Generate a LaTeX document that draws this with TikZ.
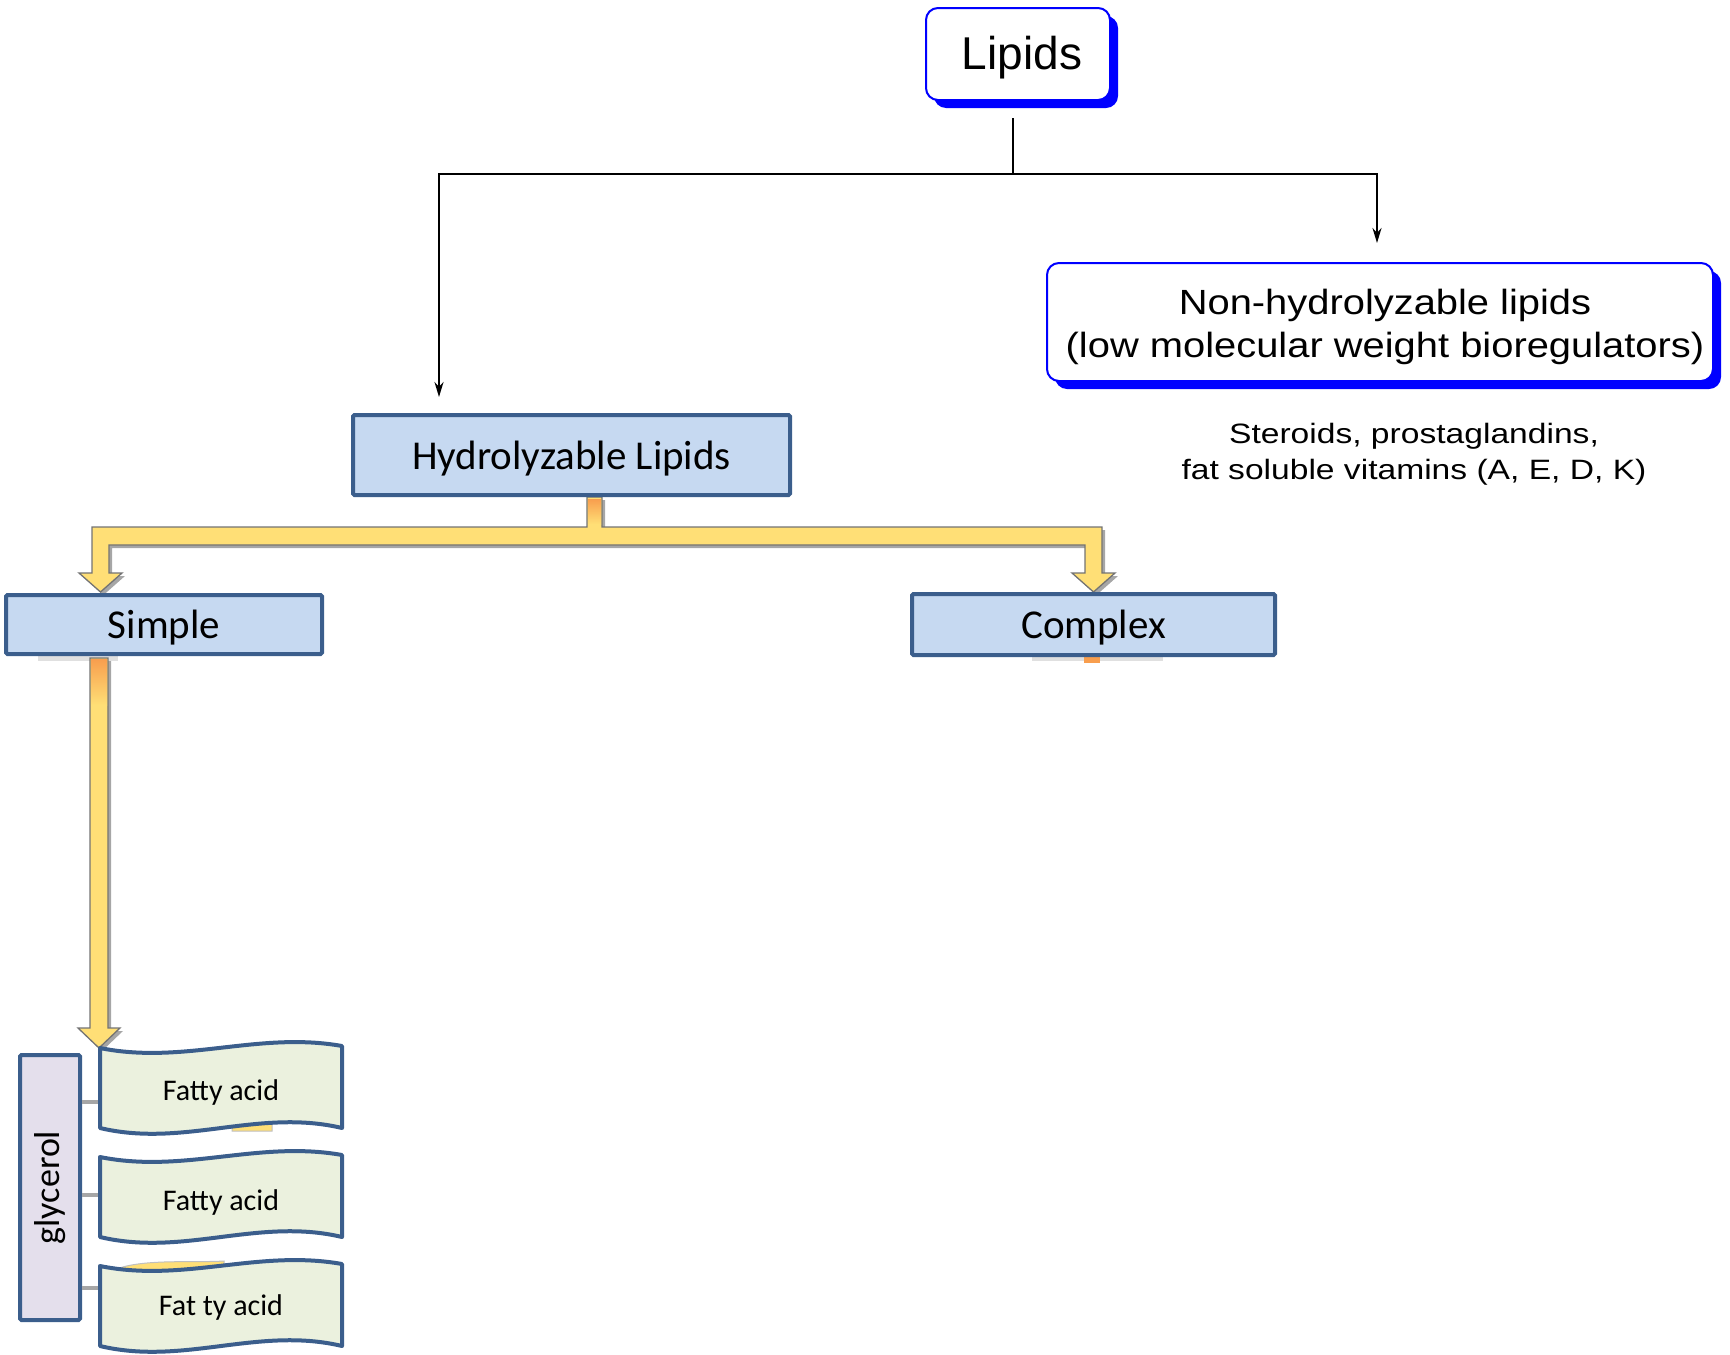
\documentclass[tikz,border=0pt]{standalone}
\usepackage{fontspec}
\setmainfont{Liberation Sans}
\newfontfamily\calfont{Carlito}
\usetikzlibrary{arrows.meta,shadows}
\definecolor{bxborder}{RGB}{59,94,140}
\definecolor{bxfill}{RGB}{198,217,241}
\definecolor{arryel}{RGB}{255,223,118}
\definecolor{arrorg}{RGB}{248,158,78}
\definecolor{fafill}{RGB}{235,241,222}
\definecolor{glyfill}{RGB}{228,223,236}
\definecolor{pblue}{RGB}{0,0,255}
\begin{document}
\begin{tikzpicture}[x=1pt,y=-1pt,
  hbox/.style={draw=bxborder, fill=bxfill, line width=4pt, inner sep=0pt,
    rounded corners=1.5pt, text height=39pt, text depth=11pt,
    font=\calfont\fontsize{41}{49}\selectfont},
  bluebox/.style={draw=pblue, fill=white, line width=2pt, inner sep=0pt,
    rounded corners=12pt, align=center,
    drop shadow={shadow xshift=8pt, shadow yshift=-8pt, fill=pblue, opacity=1}},
  conn/.style={draw=black, line width=2.2pt},
  tip/.style={-{Stealth[length=15pt,width=9pt]}},
  yarrow/.style={fill=arryel, draw=black!55, line width=1.3pt, line join=miter,
    drop shadow={shadow xshift=3pt, shadow yshift=-3pt, opacity=0.35, fill=black}},
  wave/.style={draw=bxborder, fill=fafill, line width=4pt, line join=round},
  fatext/.style={font=\calfont\fontsize{30}{36}\selectfont, inner sep=0pt},
  glink/.style={draw=black!35, line width=3.5pt},
  side/.style={font=\fontsize{28}{36.5}\selectfont, align=center, inner sep=0pt}
]
\useasboundingbox (0,0) rectangle (1730,1355);

% ---- top level
\node[bluebox, minimum width=184pt, minimum height=92pt, text height=41pt, text depth=10pt,
  font=\fontsize{46}{52}\selectfont] (lip) at (1018,54) {\hspace*{8pt}Lipids};
\node[bluebox, minimum width=666pt, minimum height=118pt] (non) at (1380,322) {};
\node[align=center, inner sep=0pt, font=\fontsize{35}{42.5}\selectfont] (nont) at (1385,327)
  {\scalebox{1.14}[1]{Non-hydrolyzable lipids}\\
   \scalebox{1.14}[1]{(low molecular weight bioregulators)}};
\node[side] (ster) at (1414,454)
  {\scalebox{1.2}[1]{Steroids, prostaglandins,}\\
   \scalebox{1.2}[1]{fat soluble vitamins (A, E, D, K)}};

\coordinate (lj) at (1013,118);
\coordinate (hj) at (1013,174);
\coordinate (hin) at (439,397);
\coordinate (nin) at (1377,243);
\draw[conn] (lj) -- (hj);
\draw[conn,tip] (hj) -| (hin);
\draw[conn,tip] (hj) -| (nin);

% ---- hidden-shape remnants
\fill[black!12] (38,656) rectangle (118,661);
\fill[black!12] (1032,657) rectangle (1163,661);
\fill[arrorg] (1084,657) rectangle (1100,663);

% ---- yellow branching arrow
\path[yarrow] (587,497) -- (587,527) -- (92,527) -- (92,573) -- (79,573)
  -- (100.5,592) -- (122,573) -- (109,573) -- (109,545) -- (1085,545)
  -- (1085,573) -- (1072,573) -- (1093.5,592) -- (1115,573) -- (1102,573)
  -- (1102,527) -- (602,527) -- (602,497) -- cycle;
\shade[top color=arrorg, bottom color=arryel] (588,499) rectangle (601,524);

% ---- vertical arrow from Simple
\path[yarrow] (90,658) -- (90,1028) -- (78,1028) -- (99,1048) -- (120,1028)
  -- (108,1028) -- (108,658) -- cycle;
\shade[top color=arrorg, bottom color=arryel] (91,659) rectangle (107,705);

% ---- boxes
\node[hbox, minimum width=437pt, minimum height=80pt] (hyd) at (571.5,455)
  {Hydrolyzable Lipids};
\node[hbox, minimum width=316pt, minimum height=59pt] (sim) at (164,624.5)
  {Simple};
\node[hbox, minimum width=363pt, minimum height=61pt] (cpx) at (1093.5,624.5)
  {Complex};

% ---- glycerol and fatty acids
\node[draw=bxborder, fill=glyfill, line width=4pt, inner sep=0pt,
  minimum width=60pt, minimum height=265pt, rounded corners=1.5pt] (gly) at (50,1187.5) {};
\node[rotate=90, font=\calfont\fontsize{36}{42}\selectfont, inner sep=0pt]
  (glyt) at (gly.center) {glycerol};

\coordinate (fa1w) at (100,1102);
\coordinate (fa2w) at (100,1195);
\coordinate (fa3w) at (100,1288);
\draw[glink] (gly.east |- fa1w) -- (fa1w);
\draw[glink] (gly.east |- fa2w) -- (fa2w);
\draw[glink] (gly.east |- fa3w) -- (fa3w);

% yellow remnants behind the bands
\fill[arryel, draw=black!25, line width=1pt] (232,1127) .. controls (240,1118) and (262,1116) .. (272,1122) -- (272,1131) -- (232,1131) -- cycle;
\fill[arryel, draw=black!25, line width=1pt] (110,1272) .. controls (135,1258) and (190,1263) .. (224,1261) -- (224,1278) -- (110,1278) -- cycle;

\begin{scope}[shift={(100,1048)}]
  \draw[wave] (0,0) .. controls (84,17) and (158,-17) .. (242,-2) -- (242,80)
    .. controls (158,60) and (84,100) .. (0,80) -- cycle;
\end{scope}
\begin{scope}[shift={(100,1157)}]
  \draw[wave] (0,0) .. controls (84,17) and (158,-17) .. (242,-2) -- (242,80)
    .. controls (158,60) and (84,100) .. (0,80) -- cycle;
\end{scope}
\begin{scope}[shift={(100,1266)}]
  \draw[wave] (0,0) .. controls (84,17) and (158,-17) .. (242,-2) -- (242,80)
    .. controls (158,60) and (84,100) .. (0,80) -- cycle;
\end{scope}
\node[fatext] (fa1) at (221,1092) {Fatty acid};
\node[fatext] (fa2) at (221,1202) {Fatty acid};
\node[fatext] (fa3) at (221,1307) {Fat ty acid};
\end{tikzpicture}
\end{document}
